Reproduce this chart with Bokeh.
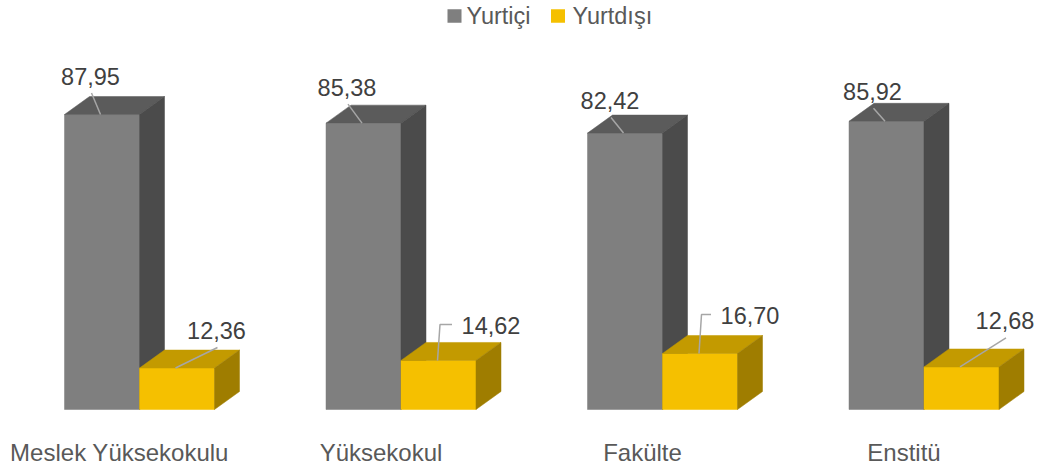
from bokeh.plotting import figure
from bokeh.models import Range1d
from bokeh.core.properties import value
from bokeh.embed import file_html
from bokeh.resources import INLINE

# ---------------- data ----------------
categories = ["Meslek Yüksekokulu", "Yüksekokul", "Fakülte", "Enstitü"]
yurtici = [87.95, 85.38, 82.42, 85.92]
yurtdisi = [12.36, 14.62, 16.70, 12.68]
series_names = ["Yurtiçi", "Yurtdışı"]

# ---------------- layout / style ----------------
W, H = 1038, 472
CAT_PX = 261.5      # pixels per category step
UNIT_PX = 3.354     # pixels per value unit
ORIGIN_X = 139      # px (from left) of first category boundary
BASE_PX = 63        # px from bottom of zero line

FONT = value("Liberation Sans")
GRAY = ("#7f7f7f", "#5b5b5b", "#4b4b4b")      # front, top, side
GOLD = ("#f5c000", "#c39a00", "#9f7d00")

# label offsets in px relative to centre of the front top edge (y down)
gray_lbl_off = [(-11.5, -38.5), (-16.5, -36.0), (-15.0, -32.6), (-14.0, -30.0)]
gold_lbl_off = [(39.5, -37.5), (52.5, -35.0), (50.0, -38.0), (43.5, -46.0)]
gold_elbow = [False, True, True, False]


def sx(px):
    return px / CAT_PX


def sy(px):
    return px / UNIT_PX


def X(fx):
    return (fx - ORIGIN_X) / CAT_PX


def Y(fy):
    return (H - BASE_PX - fy) / UNIT_PX


BAR_W = sx(75)
DEP_X = sx(25)
DEP_Y = sy(18)

p = figure(width=W, height=H, x_range=Range1d(X(0), X(W)), y_range=Range1d(Y(H), Y(0)),
           output_backend="svg", toolbar_location=None, x_axis_type=None, y_axis_type=None,
           min_border=0)
p.grid.visible = False
p.outline_line_color = None
p.background_fill_color = "white"
p.border_fill_color = "white"


def draw_series(vals, x_shift, cols):
    fx, fy, tx, ty, sxs, sys_ = [], [], [], [], [], []
    for i, v in enumerate(vals):
        x0 = i + x_shift
        x1 = x0 + BAR_W
        fx.append([x0, x1, x1, x0]); fy.append([0, 0, v, v])
        tx.append([x0, x1, x1 + DEP_X, x0 + DEP_X]); ty.append([v, v, v + DEP_Y, v + DEP_Y])
        sxs.append([x1, x1 + DEP_X, x1 + DEP_X, x1]); sys_.append([0, DEP_Y, v + DEP_Y, v])
    p.patches(fx, fy, fill_color=cols[0], line_color=cols[0], line_width=0.5)
    p.patches(tx, ty, fill_color=cols[1], line_color=cols[1], line_width=0.5)
    p.patches(sxs, sys_, fill_color=cols[2], line_color=cols[2], line_width=0.5)


draw_series(yurtici, -BAR_W, GRAY)
draw_series(yurtdisi, 0.0, GOLD)


def fmt(v):
    return f"{v:.2f}".replace(".", ",")


def labels(vals, x_shift, offs, elbows):
    lx, ly, lt, mx, my = [], [], [], [], []
    for i, v in enumerate(vals):
        cxf = i + x_shift + BAR_W / 2
        ox, oy = offs[i]
        cx = cxf + sx(ox)
        cy = v - sy(oy)            # centre of text (cap centre)
        lx.append(cx); ly.append(cy); lt.append(fmt(v))
        if elbows[i]:
            yy = cy + sy(1)
            mx.append([cx - sx(39), cxf + sx(1.5), cxf - sx(1)])
            my.append([yy, yy, v])
        else:
            mx.append([cx + sx(1), cxf - sx(1.5)])
            my.append([cy - sy(17), v])
    p.multi_line(mx, my, line_color="#a6a6a6", line_width=1.5)
    p.text(lx, ly, text=lt, text_font=FONT, text_font_size="23.5px", text_color="#404040",
           text_align="center", text_baseline="middle")


labels(yurtici, -BAR_W, gray_lbl_off, [False] * 4)
labels(yurtdisi, 0.0, gold_lbl_off, gold_elbow)

# category labels
p.text([i - sx(20) for i in range(len(categories))], [Y(452)] * len(categories), text=categories,
       text_font=FONT, text_font_size="24px", text_color="#595959",
       text_align="center", text_baseline="middle")

# legend
p.rect([X(454), X(557.5)], [Y(15.5)] * 2, width=sx(14), height=sy(13.5),
       fill_color=[GRAY[0], GOLD[0]], line_color=None)
p.text([X(466), X(572)], [Y(15)] * 2, text=series_names, text_font=FONT,
       text_font_size="23.5px", text_color="#595959", text_align="left", text_baseline="middle")

open("out.html", "w").write(file_html(p, INLINE, title="Yurtiçi / Yurtdışı"))
